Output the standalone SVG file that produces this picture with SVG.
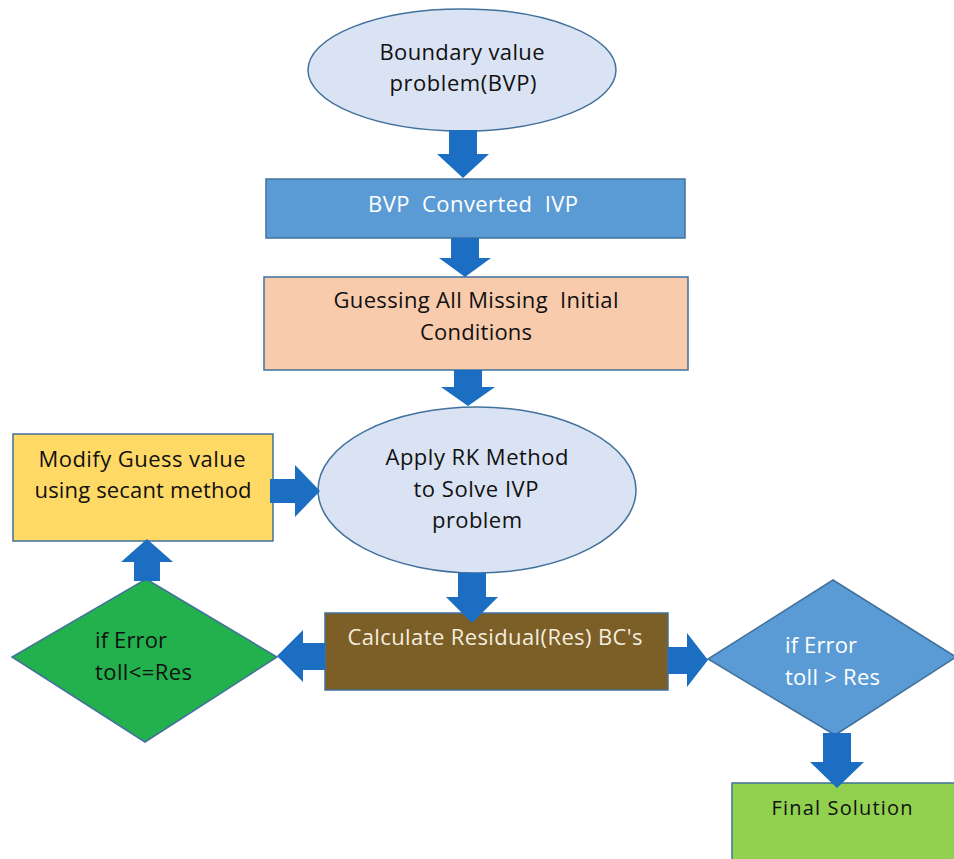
<svg xmlns="http://www.w3.org/2000/svg" width="954" height="859" viewBox="0 0 954 859">
  <style>
    text { font-family: "Open Sans", "Liberation Sans", sans-serif; font-size: 22px; font-weight: 500; text-anchor: middle; white-space: pre; }
    .dark { fill: #111111; }
    .light { fill: #ffffff; }
    .cream { fill: #f3eedf; }
    .ell { fill: #dae3f3; stroke: #41719c; stroke-width: 1.5; }
    .box { stroke: #41719c; stroke-width: 1.5; }
    .arrow { fill: #1b6ec2; stroke: none; }
  </style>
  <rect width="954" height="859" fill="#ffffff"/>

  <g id="bvp">
    <ellipse class="ell" cx="462" cy="70" rx="154" ry="61"/>
    <text class="dark" x="462" y="60" textLength="165">Boundary value</text>
    <text class="dark" x="463" y="91" textLength="147">problem(BVP)</text>
  </g>

  <g id="converted">
    <rect class="box" x="266" y="179" width="419" height="59" fill="#5b9bd5"/>
    <text class="light" x="473" y="212" xml:space="preserve" textLength="210">BVP  Converted  IVP</text>
  </g>

  <g id="guessing">
    <rect class="box" x="264" y="277" width="424" height="93" fill="#f8cbad"/>
    <text class="dark" x="476" y="308" xml:space="preserve" textLength="285">Guessing All Missing  Initial</text>
    <text class="dark" x="476" y="340" textLength="112">Conditions</text>
  </g>

  <g id="modify">
    <rect class="box" x="13" y="434" width="260" height="107" fill="#ffd966"/>
    <text class="dark" x="142" y="467" textLength="207">Modify Guess value</text>
    <text class="dark" x="143" y="498" textLength="217">using secant method</text>
  </g>

  <g id="rk">
    <ellipse class="ell" cx="477" cy="490" rx="159" ry="83"/>
    <text class="dark" x="477" y="465" textLength="183">Apply RK Method</text>
    <text class="dark" x="476" y="497" textLength="125">to Solve IVP</text>
    <text class="dark" x="477" y="528" textLength="90">problem</text>
  </g>

  <g id="residual">
    <rect class="box" x="325" y="613" width="343" height="77" fill="#7c5e27"/>
    <text class="cream" x="495" y="645" textLength="295">Calculate Residual(Res) BC's</text>
  </g>

  <g id="if-le">
    <polygon class="box" points="146,579 277,657 145,742 12,657" fill="#22b14c"/>
    <text class="dark" x="95" y="648" style="text-anchor:start" textLength="72">if Error</text>
    <text class="dark" x="95" y="680" style="text-anchor:start" textLength="97">toll&lt;=Res</text>
  </g>

  <g id="if-gt">
    <polygon class="box" points="833,580 956,657 835,735 708,659" fill="#5b9bd5"/>
    <text class="light" x="785" y="653" style="text-anchor:start" textLength="72">if Error</text>
    <text class="light" x="785" y="685" style="text-anchor:start" textLength="95">toll &gt; Res</text>
  </g>

  <g id="final">
    <rect class="box" x="732" y="783" width="226" height="80" fill="#92d050"/>
    <text class="dark" x="842" y="815" style="font-size:20px" textLength="141">Final Solution</text>
  </g>

  <g id="connectors">
    <polygon class="arrow" points="449,130 477,130 477,154 489,154 463,178 437,154 449,154"/>
    <polygon class="arrow" points="451,238 479,238 479,258 491,258 465,277 439,258 451,258"/>
    <polygon class="arrow" points="454,370 482,370 482,387 495,387 468,406 441,387 454,387"/>
    <polygon class="arrow" points="458,573 486,573 486,597 498,597 472,623 446,597 458,597"/>
    <polygon class="arrow" points="823,733 851,733 851,762 864,762 837,788 810,762 823,762"/>
    <polygon class="arrow" points="270,479 295,479 295,465 320,491 295,517 295,503 270,503"/>
    <polygon class="arrow" points="668,647 687,647 687,633 708,660 687,687 687,674 668,674"/>
    <polygon class="arrow" points="325,643 303,643 303,630 277,656 303,682 303,670 325,670"/>
    <polygon class="arrow" points="134,581 160,581 160,562 173,562 147,539 121,562 134,562"/>
  </g>
</svg>
